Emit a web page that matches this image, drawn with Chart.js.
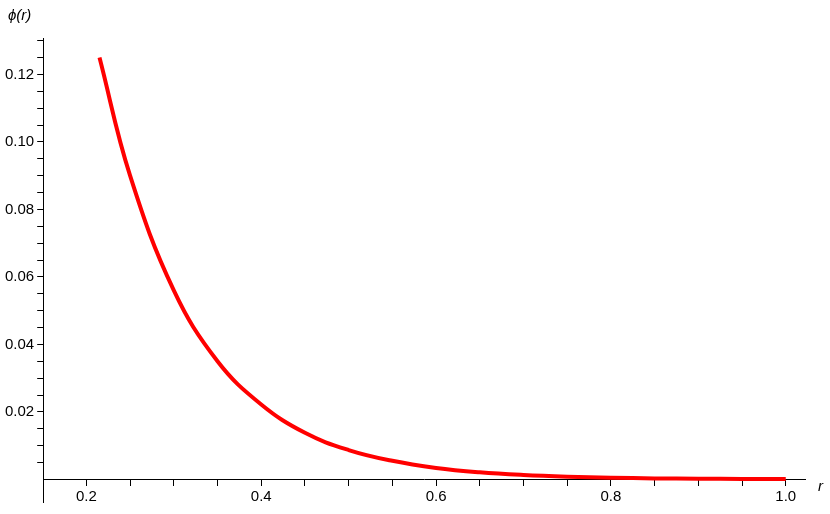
<!DOCTYPE html>
<html>
<head>
<script src="https://cdn.jsdelivr.net/npm/chart.js@4.4.0/dist/chart.umd.min.js"></script>
<style>body{margin:0;background:#fff}#wrap{width:830px;height:514px}</style>
</head>
<body>
<div id="wrap"><canvas id="c"></canvas></div>
<script>
// values
const rValues = [0.215, 0.25, 0.3, 0.35, 0.4, 0.45, 0.5, 0.55, 0.6, 0.65, 0.7, 0.75, 0.8, 0.85, 0.9, 0.95, 1.0];
const phiValues = [0.125, 0.090, 0.056, 0.035, 0.0222, 0.0138, 0.0087, 0.0055, 0.0034, 0.0021, 0.0013, 0.0008, 0.0005, 0.0003, 0.0002, 0.00012, 0.0001];
const xTicks = [0.2, 0.4, 0.6, 0.8, 1.0];
const yTicks = [0.02, 0.04, 0.06, 0.08, 0.10, 0.12];

const points = rValues.map((r, i) => ({ x: r, y: phiValues[i] }));

const isMajor = (v, list) => list.some(t => Math.abs(t - v) < 1e-9);

const labels = {
  id: 'labels',
  afterDraw(chart) {
    const c = chart.ctx;
    c.save();
    c.fillStyle = '#000';
    c.font = 'italic 15px "Liberation Sans", Arial';
    c.textBaseline = 'middle';
    c.fillText('\u03d5(r)', 8, 16);
    c.fillText('r', 818, 487);
    c.restore();
  }
};

new Chart(document.getElementById('c'), {
  type: 'line',
  data: {
    datasets: [{
      data: points,
      borderColor: '#ff0000',
      borderWidth: 4,
      pointRadius: 0,
      tension: 0.4,
      fill: false
    }]
  },
  options: {
    responsive: true,
    maintainAspectRatio: false,
    animation: false,
    layout: { padding: { top: 38, right: 25, bottom: 4, left: 2 } },
    plugins: { legend: { display: false }, tooltip: { enabled: false } },
    scales: {
      x: {
        type: 'linear',
        min: 0.1506,
        max: 1.022,
        position: { y: 0 },
        afterBuildTicks: s => {
          const t = [];
          for (let i = 4; i <= 20; i++) t.push({ value: i * 0.05 });
          s.ticks = t;
        },
        grid: { drawOnChartArea: false, tickLength: 6, color: '#000' },
        border: { color: '#000', width: 1 },
        ticks: {
          color: '#000',
          font: { size: 15, family: '"Liberation Sans", Arial' },
          autoSkip: false,
          maxRotation: 0,
          padding: 2,
          callback: v => isMajor(v, xTicks) ? v.toFixed(1) : ''
        }
      },
      y: {
        type: 'linear',
        min: -0.0067,
        max: 0.1308,
        afterBuildTicks: s => {
          const t = [];
          for (let i = 1; i <= 26; i++) t.push({ value: i * 0.005 });
          s.ticks = t;
        },
        grid: { drawOnChartArea: false, tickLength: 6, color: '#000' },
        border: { color: '#000', width: 1 },
        ticks: {
          color: '#000',
          font: { size: 15, family: '"Liberation Sans", Arial' },
          autoSkip: false,
          padding: 3,
          callback: v => isMajor(v, yTicks) ? v.toFixed(2) : ''
        }
      }
    }
  },
  plugins: [labels]
});
</script>
</body>
</html>
